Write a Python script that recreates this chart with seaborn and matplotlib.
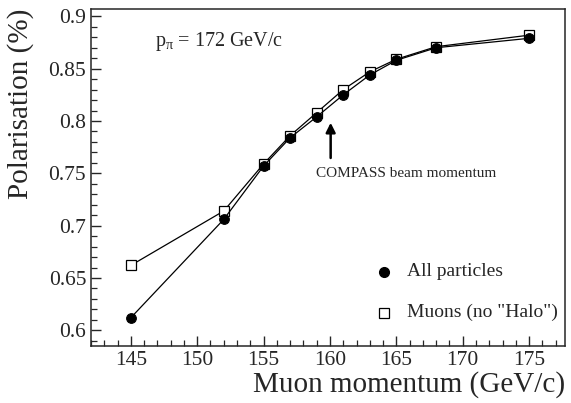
import numpy as np
import pandas as pd
import matplotlib.pyplot as plt
from matplotlib.ticker import MultipleLocator
import seaborn as sns

# データ
momentum = [145, 152, 155, 157, 159, 161, 163, 165, 168, 175]
pol_all = [0.612, 0.706, 0.757, 0.784, 0.804, 0.825, 0.844, 0.858, 0.870, 0.879]
pol_muons = [0.662, 0.714, 0.759, 0.786, 0.808, 0.830, 0.847, 0.859, 0.871, 0.882]
labels = ['All particles', 'Muons (no "Halo")']

sns.set_style("ticks")
plt.rcParams['font.family'] = ['Liberation Serif', 'DejaVu Serif']
plt.rcParams['mathtext.fontset'] = 'custom'
plt.rcParams['mathtext.rm'] = 'Liberation Serif'
plt.rcParams['mathtext.it'] = 'Liberation Serif:italic'

df = pd.DataFrame({
    'momentum': momentum * 2,
    'pol': pol_all + pol_muons,
    'sample': [labels[0]] * len(momentum) + [labels[1]] * len(momentum),
})

fig = plt.figure(figsize=(5.71, 4.03), dpi=100)
ax = fig.add_axes([91 / 571, 57 / 403, 474 / 571, 337 / 403])

sns.lineplot(data=df, x='momentum', y='pol', hue='sample', style='sample',
             palette=['black', 'black'], markers={labels[0]: 'o', labels[1]: 's'},
             dashes=False, linewidth=0.9, ax=ax, legend=False)
# マーカーの見た目を調整
l_all, l_mu = ax.lines[0], ax.lines[1]
l_all.set_markerfacecolor('black')
l_all.set_markeredgecolor('black')
l_all.set_markersize(7)
l_all.set_zorder(3)
l_mu.set_markerfacecolor('white')
l_mu.set_markeredgecolor('black')
l_mu.set_markeredgewidth(0.9)
l_mu.set_markersize(7.2)
l_mu.set_zorder(2)

ax.set_xlim(142.0, 177.7)
ax.set_ylim(0.585, 0.907)
ax.xaxis.set_major_locator(MultipleLocator(5))
ax.xaxis.set_minor_locator(MultipleLocator(1))
ax.yaxis.set_major_locator(MultipleLocator(0.05))
ax.yaxis.set_minor_locator(MultipleLocator(0.01))
ax.yaxis.set_major_formatter(plt.FuncFormatter(lambda v, p: f"{v:g}"))
ax.tick_params(which='major', direction='in', length=7, width=1.0, labelsize=15.5)
ax.tick_params(which='minor', direction='in', length=4, width=0.9)
for s in ax.spines.values():
    s.set_linewidth(1.1)

ax.set_xlabel('Muon momentum (GeV/c)', fontsize=21, loc='right', labelpad=1)
ax.set_ylabel('Polarisation (%)', fontsize=21, loc='top', labelpad=10)

ax.text(146.8, 0.876, r'p$_\mathrm{π}$ = 172 GeV/c', fontsize=14.5, va='center')

ax.annotate('', xy=(160.05, 0.801), xytext=(160.05, 0.762),
            arrowprops=dict(arrowstyle='-|>', color='black', lw=1.8, mutation_scale=14))
ax.text(165.7, 0.750, 'COMPASS beam momentum', fontsize=11, ha='center', va='center')

# 凡例
ax.plot([164.1], [0.656], 'o', color='black', markersize=7)
ax.text(165.8, 0.656, labels[0], fontsize=14, va='center')
ax.plot([164.1], [0.617], 's', mfc='white', mec='black', markersize=7, mew=0.9)
ax.text(165.8, 0.617, labels[1], fontsize=14, va='center')

fig.savefig('out.png', dpi=100)
